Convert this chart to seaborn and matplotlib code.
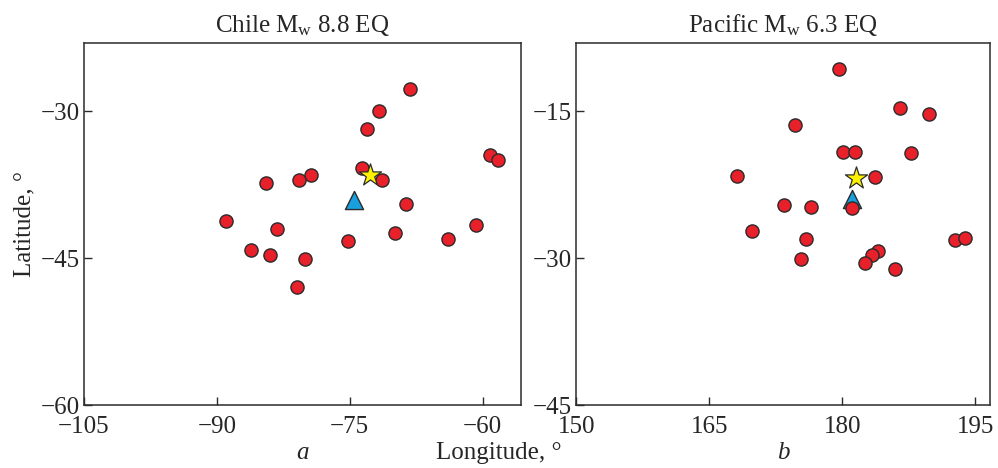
import matplotlib
matplotlib.use("Agg")
import matplotlib.pyplot as plt
import seaborn as sns
import pandas as pd

# ---- data ----
chile_lon = [-68.25, -71.7, -73.0, -59.2, -58.3, -73.6, -71.4, -79.4, -80.7, -84.5,
             -68.7, -89.0, -83.2, -60.7, -69.9, -63.9, -75.2, -86.2, -84.0, -80.1, -81.0]
chile_lat = [-27.7, -30.0, -31.8, -34.5, -35.0, -35.8, -37.0, -36.5, -37.05, -37.3,
             -39.5, -41.2, -42.0, -41.6, -42.4, -43.0, -43.3, -44.2, -44.7, -45.1, -47.9]
chile_epi = (-72.7, -36.5)
chile_sta = (-74.5, -39.1)

pac_lon = [179.6, 186.5, 189.8, 174.7, 180.1, 181.4, 187.7, 168.1, 183.7, 181.1, 173.4,
           176.5, 169.8, 175.9, 192.7, 193.9, 184.0, 183.4, 182.6, 175.3, 185.9]
pac_lat = [-10.7, -14.7, -15.3, -16.45, -19.15, -19.15, -19.3, -21.6, -21.7, -24.9, -24.6,
           -24.75, -27.2, -28.0, -28.1, -27.9, -29.3, -29.7, -30.5, -30.1, -31.1]
pac_epi = (181.5, -21.8)
pac_sta = (181.1, -24.0)

titles = ["Chile M$_\\mathrm{w}$ 8.8 EQ", "Pacific M$_\\mathrm{w}$ 6.3 EQ"]
panel_letters = ["a", "b"]
xticks_list = [[-105, -90, -75, -60], [150, 165, 180, 195]]
yticks_list = [[-60, -45, -30], [-45, -30, -15]]
xlims = [(-104.8, -55.7), (150.3, 196.7)]
ylims = [(-60, -23.0), (-45, -8.0)]

sns.set_theme(style="white")
plt.rcParams["font.family"] = ["Liberation Serif", "DejaVu Serif"]
plt.rcParams["mathtext.fontset"] = "custom"
plt.rcParams["mathtext.rm"] = "Liberation Serif"
plt.rcParams["mathtext.it"] = "Liberation Serif:italic"

FS = 18
fig = plt.figure(figsize=(9.98, 4.68), dpi=100)
ax1 = fig.add_axes([0.0842, 0.1346, 0.4375, 0.7742])
ax2 = fig.add_axes([0.5775, 0.1346, 0.4148, 0.7742])

RED = "#e8202a"
EDGE = "#2b2b2b"

datasets = [(chile_lon, chile_lat, chile_epi, chile_sta),
            (pac_lon, pac_lat, pac_epi, pac_sta)]

for i, (ax, (lon, lat, epi, sta)) in enumerate(zip([ax1, ax2], datasets)):
    df = pd.DataFrame({"lon": lon, "lat": lat})
    sns.scatterplot(x=[sta[0]], y=[sta[1]], ax=ax, marker="^", s=170,
                    color="#1a9fde", edgecolor=EDGE, linewidth=1.0, zorder=2)
    sns.scatterplot(data=df, x="lon", y="lat", ax=ax, s=90, color=RED,
                    edgecolor=EDGE, linewidth=1.0, zorder=3)
    sns.scatterplot(x=[epi[0]], y=[epi[1]], ax=ax, marker="*", s=280,
                    color="#fff200", edgecolor=EDGE, linewidth=0.9, zorder=5)
    ax.set_xlim(*xlims[i])
    ax.set_ylim(*ylims[i])
    ax.set_xticks(xticks_list[i])
    ax.set_yticks(yticks_list[i])
    ax.tick_params(direction="in", length=6, width=1.0, color=EDGE,
                   labelsize=FS, bottom=True, left=True, top=False, right=False)
    ax.tick_params(axis="x", pad=8)
    ax.tick_params(axis="y", pad=3)
    for sp in ax.spines.values():
        sp.set_linewidth(1.1)
        sp.set_color(EDGE)
    ax.set_xlabel("")
    ax.set_ylabel("")
    ax.set_title(titles[i], fontsize=FS, pad=8)
    cx = (ax.get_position().x0 + ax.get_position().x1) / 2
    fig.text(cx, 0.032, panel_letters[i], ha="center", va="center",
             fontsize=FS, style="italic")

ax1.set_ylabel("Latitude, °", fontsize=FS, labelpad=4)
fig.text(0.5, 0.032, "Longitude, °", ha="center", va="center", fontsize=FS)

fig.savefig("out.png", dpi=100)
